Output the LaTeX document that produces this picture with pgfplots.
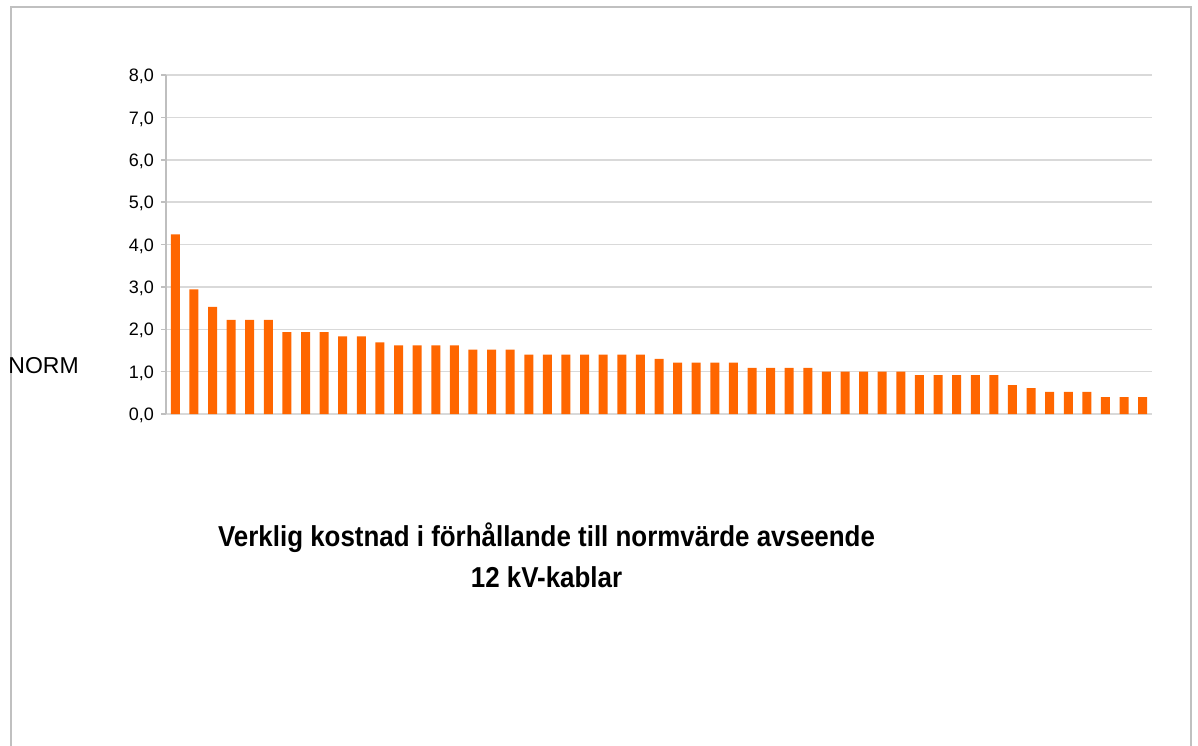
\documentclass[border=0pt]{standalone}
\usepackage{fontspec}
\setmainfont{Liberation Sans}
\usepackage{graphicx}
\usepackage{pgfplots}
\pgfplotsset{compat=1.18}

\definecolor{barorange}{HTML}{FF6600}
\definecolor{gridgray}{HTML}{D9D9D9}
\definecolor{axisgray}{HTML}{BFBFBF}
\definecolor{framegray}{HTML}{C0C0C0}

\begin{document}
\begin{tikzpicture}
% page = 1198x745 px at 0.5pt per px
\path[use as bounding box] (0,0) rectangle (599pt,-372.5pt);
\draw[framegray, line width=1pt] (5.25pt,-380pt) -- (5.25pt,-3.25pt) -- (595.25pt,-3.25pt) -- (595.25pt,-380pt);

\begin{axis}[
    at={(83pt,-207pt)}, anchor=south west,
    scale only axis, width=493pt, height=169.5pt,
    ybar, bar width=4.5pt,
    xmin=-0.5, xmax=52.5,
    ymin=0, ymax=8,
    ytick={0,1,2,3,4,5,6,7,8},
    axis x line=none,
    axis y line*=left,
    y axis line style={axisgray, line width=0.75pt},
    tick align=outside,
    major tick length=2.5pt,
    ytick style={axisgray, line width=0.75pt},
    ymajorgrids=true,
    grid style={gridgray, line width=0.75pt},
    yticklabel style={font=\fontsize{9}{10}\selectfont, text=black, yshift=-0.8pt},
    /pgf/number format/.cd, fixed, fixed zerofill, precision=1, use comma, assume math mode=true,
    /pgfplots/.cd,
    ylabel={NORM},
    every axis y label/.style={at={(rel axis cs:0,0.1416)}, anchor=west, xshift=-79pt,
        inner sep=0pt, font=\fontsize{11.5}{13}\selectfont},
]
\addplot[fill=barorange, draw=none] coordinates {
    (0,4.24)(1,2.94)(2,2.53)(3,2.22)(4,2.22)(5,2.22)(6,1.93)(7,1.93)(8,1.93)
    (9,1.83)(10,1.83)(11,1.69)(12,1.62)(13,1.62)(14,1.62)(15,1.62)
    (16,1.52)(17,1.52)(18,1.52)(19,1.40)(20,1.40)(21,1.40)(22,1.40)(23,1.40)
    (24,1.40)(25,1.40)(26,1.30)(27,1.21)(28,1.21)(29,1.21)(30,1.21)
    (31,1.09)(32,1.09)(33,1.09)(34,1.09)(35,1.00)(36,1.00)(37,1.00)(38,1.00)
    (39,1.00)(40,0.92)(41,0.92)(42,0.92)(43,0.92)(44,0.92)(45,0.68)(46,0.61)
    (47,0.52)(48,0.52)(49,0.52)(50,0.40)(51,0.40)(52,0.40)
};
\end{axis}

\node[inner sep=0pt] at (273.25pt,-279.5pt) {\scalebox{0.9}[1]{\fontsize{14.4}{20.5}\selectfont\bfseries
    \begin{tabular}{@{}c@{}}Verklig kostnad i förhållande till normvärde avseende\\12 kV-kablar\end{tabular}}};
\end{tikzpicture}
\end{document}
